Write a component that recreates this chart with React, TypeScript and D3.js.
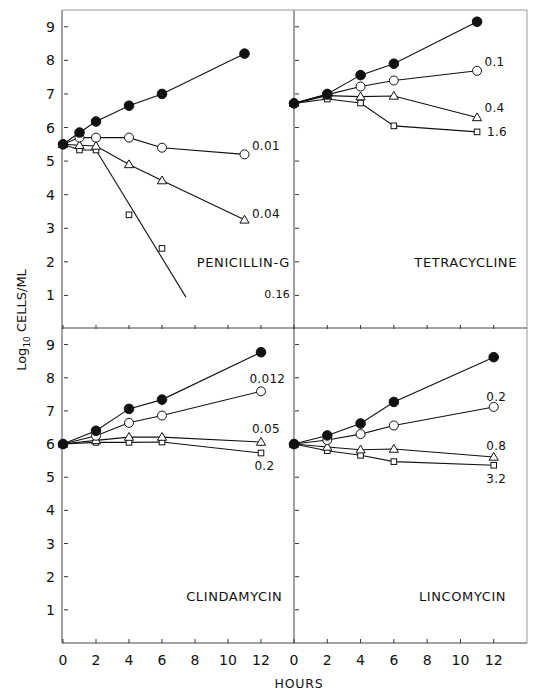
import React from "react";
import * as d3 from "d3";

// ---- Data ----
const penHours = [0, 1, 2, 4, 6, 11];
const penControl = [5.5, 5.85, 6.18, 6.65, 7.0, 8.2];
const pen001 = [5.5, 5.7, 5.7, 5.7, 5.4, 5.2];
const pen004 = [5.5, 5.47, 5.45, 4.9, 4.42, 3.25];
const pen016 = [5.5, 5.33, 5.33, 3.4, 2.4];
const pen016FitHours = [2, 7.45];
const pen016FitValues = [5.33, 0.95];

const tetHours = [0, 2, 4, 6, 11];
const tetControl = [6.72, 7.0, 7.56, 7.9, 9.15];
const tet01 = [6.72, 6.98, 7.22, 7.4, 7.69];
const tet04 = [6.72, 6.95, 6.92, 6.94, 6.3];
const tet16 = [6.72, 6.85, 6.73, 6.05, 5.87];

const cliHours = [0, 2, 4, 6, 12];
const cliControl = [6.0, 6.4, 7.06, 7.34, 8.77];
const cli0012 = [6.0, 6.25, 6.64, 6.86, 7.59];
const cli005 = [6.0, 6.11, 6.21, 6.21, 6.06];
const cli02 = [6.0, 6.05, 6.05, 6.06, 5.73];

const linHours = [0, 2, 4, 6, 12];
const linControl = [6.0, 6.26, 6.62, 7.27, 8.62];
const lin02 = [6.0, 6.12, 6.3, 6.56, 7.12];
const lin08 = [6.0, 5.91, 5.83, 5.85, 5.61];
const lin32 = [6.0, 5.8, 5.66, 5.47, 5.36];

const yTicks = [1, 2, 3, 4, 5, 6, 7, 8, 9];
const xTicks = [0, 2, 4, 6, 8, 10, 12];
const xTickLabels = ["0", "2", "4", "6", "8", "10", "12"];

type Marker = "filled" | "circle" | "triangle" | "square";
type Series = { hours: number[]; values: number[]; marker: Marker; connect?: number };
type Label = { text: string; h: number; v: number; anchor?: "start" | "end" | "middle"; size?: number };

const FONT = "'DejaVu Sans', 'Liberation Sans', sans-serif";

function MarkerShape({ x, y, type }: { x: number; y: number; type: Marker }) {
  if (type === "filled") return <circle cx={x} cy={y} r={4.8} fill="#111" stroke="#111" />;
  if (type === "circle") return <circle cx={x} cy={y} r={4.5} fill="#fff" stroke="#111" strokeWidth={1} />;
  if (type === "triangle") {
    const s = 4.6;
    return (
      <path
        d={`M${x},${y - s}L${x + s},${y + s * 0.7}L${x - s},${y + s * 0.7}Z`}
        fill="#fff"
        stroke="#111"
        strokeWidth={1}
      />
    );
  }
  return <rect x={x - 2.8} y={y - 2.8} width={5.6} height={5.6} fill="#fff" stroke="#111" strokeWidth={1} />;
}

function Panel({
  x0,
  x1,
  y0,
  y1,
  series,
  fit,
  labels,
  showYLabels,
}: {
  x0: number;
  x1: number;
  y0: number;
  y1: number;
  series: Series[];
  fit?: { hours: number[]; values: number[] };
  labels: Label[];
  showYLabels: boolean;
}) {
  const x = d3.scaleLinear().domain([0, 14]).range([x0, x1]);
  const y = d3.scaleLinear().domain([0, 9.5]).range([y1, y0]);
  const line = d3
    .line<[number, number]>()
    .x((d) => x(d[0]))
    .y((d) => y(d[1]));
  const order: Marker[] = ["square", "triangle", "circle", "filled"];
  return (
    <g>
      {yTicks.map((t) => (
        <g key={"yt" + t}>
          <line x1={x0 + 1} x2={x0 + 5} y1={y(t)} y2={y(t)} stroke="#333" strokeWidth={1} />
          {showYLabels && (
            <text x={x0 - 8} y={y(t)} dy="0.36em" textAnchor="end" fontSize={14} fontFamily={FONT} fill="#111">
              {t}
            </text>
          )}
        </g>
      ))}
      {xTicks.map((t) => (
        <line key={"xt" + t} x1={x(t)} x2={x(t)} y1={y1} y2={y1 - 4} stroke="#333" strokeWidth={1} />
      ))}
      {series.map((s, i) => {
        const n = s.connect ?? s.hours.length;
        const pts: [number, number][] = s.hours.slice(0, n).map((h, j) => [h, s.values[j]]);
        return <path key={"l" + i} d={line(pts) || ""} fill="none" stroke="#111" strokeWidth={1.1} />;
      })}
      {fit && (
        <path
          d={line(fit.hours.map((h, j) => [h, fit.values[j]] as [number, number])) || ""}
          fill="none"
          stroke="#111"
          strokeWidth={1.1}
        />
      )}
      {order.map((m) =>
        series
          .filter((s) => s.marker === m)
          .map((s, i) =>
            s.values.map((v, j) => <MarkerShape key={m + i + "-" + j} x={x(s.hours[j])} y={y(v)} type={m} />)
          )
      )}
      {labels.map((l, i) => (
        <text
          key={"lab" + i}
          x={x(l.h)}
          y={y(l.v)}
          dy="0.36em"
          textAnchor={l.anchor ?? "start"}
          fontSize={l.size ?? 12}
          fontFamily={FONT}
          fill="#111"
          letterSpacing={l.size && l.size > 12 ? 0.6 : 0.3}
        >
          {l.text}
        </text>
      ))}
    </g>
  );
}

export default function App() {
  const L0 = 63,
    M = 294,
    R1 = 527;
  const T0 = 10,
    MID = 328,
    B = 643;
  const xL = d3.scaleLinear().domain([0, 14]).range([L0, M]);
  const xR = d3.scaleLinear().domain([0, 14]).range([M, R1]);
  return (
    <svg
      width={534}
      height={693}
      viewBox="0 0 534 693"
      style={{ position: "absolute", left: 0, top: 0, background: "#fff" }}
    >
      <rect width={534} height={693} fill="#fff" />
      {/* frames */}
      <g stroke="#444" strokeWidth={1} fill="none">
        <line x1={L0 - 1} x2={L0 - 1} y1={T0} y2={B} />
        <line x1={M} x2={M} y1={T0} y2={B} />
        <line x1={R1} x2={R1} y1={T0} y2={B} stroke="#999" />
        <line x1={L0 - 1} x2={R1} y1={T0} y2={T0} stroke="#999" />
        <line x1={L0 - 1} x2={R1} y1={MID} y2={MID} />
        <line x1={L0 - 1} x2={R1} y1={B} y2={B} />
      </g>
      <Panel
        x0={L0}
        x1={M}
        y0={T0}
        y1={MID + 1}
        showYLabels
        series={[
          { hours: penHours, values: penControl, marker: "filled" },
          { hours: penHours, values: pen001, marker: "circle" },
          { hours: penHours, values: pen004, marker: "triangle" },
          { hours: penHours, values: pen016, marker: "square", connect: 3 },
        ]}
        fit={{ hours: pen016FitHours, values: pen016FitValues }}
        labels={[
          { text: "0.01", h: 11.45, v: 5.45 },
          { text: "0.04", h: 11.45, v: 3.42 },
          { text: "PENICILLIN-G", h: 13.75, v: 2.0, anchor: "end", size: 13 },
          { text: "0.16", h: 12.2, v: 1.05, size: 11 },
        ]}
      />
      <Panel
        x0={M}
        x1={R1}
        y0={T0}
        y1={MID + 1}
        showYLabels={false}
        series={[
          { hours: tetHours, values: tetControl, marker: "filled" },
          { hours: tetHours, values: tet01, marker: "circle" },
          { hours: tetHours, values: tet04, marker: "triangle" },
          { hours: tetHours, values: tet16, marker: "square" },
        ]}
        labels={[
          { text: "0.1", h: 11.45, v: 7.95 },
          { text: "0.4", h: 11.45, v: 6.6 },
          { text: "1.6", h: 11.6, v: 5.88 },
          { text: "TETRACYCLINE", h: 13.4, v: 2.0, anchor: "end", size: 13 },
        ]}
      />
      <Panel
        x0={L0}
        x1={M}
        y0={MID}
        y1={B}
        showYLabels
        series={[
          { hours: cliHours, values: cliControl, marker: "filled" },
          { hours: cliHours, values: cli0012, marker: "circle" },
          { hours: cliHours, values: cli005, marker: "triangle" },
          { hours: cliHours, values: cli02, marker: "square" },
        ]}
        labels={[
          { text: "0.012", h: 11.3, v: 7.96 },
          { text: "0.05", h: 11.45, v: 6.45 },
          { text: "0.2", h: 11.6, v: 5.34 },
          { text: "CLINDAMYCIN", h: 13.3, v: 1.42, anchor: "end", size: 13 },
        ]}
      />
      <Panel
        x0={M}
        x1={R1}
        y0={MID}
        y1={B}
        showYLabels={false}
        series={[
          { hours: linHours, values: linControl, marker: "filled" },
          { hours: linHours, values: lin02, marker: "circle" },
          { hours: linHours, values: lin08, marker: "triangle" },
          { hours: linHours, values: lin32, marker: "square" },
        ]}
        labels={[
          { text: "0.2", h: 11.55, v: 7.42 },
          { text: "0.8", h: 11.55, v: 5.94 },
          { text: "3.2", h: 11.55, v: 4.95 },
          { text: "LINCOMYCIN", h: 12.75, v: 1.42, anchor: "end", size: 13 },
        ]}
      />
      {/* x tick labels */}
      {[xL, xR].map((xs, k) =>
        xTicks.map((t, i) => (
          <text
            key={"xl" + k + "-" + t}
            x={xs(t)}
            y={660}
            dy="0.36em"
            textAnchor="middle"
            fontSize={14}
            fontFamily={FONT}
            fill="#111"
          >
            {xTickLabels[i]}
          </text>
        ))
      )}
      <text x={299} y={683} dy="0.36em" textAnchor="middle" fontSize={12.5} fontFamily={FONT} fill="#111" letterSpacing={0.8}>
        HOURS
      </text>
      <text
        transform="translate(21,320) rotate(-90)"
        textAnchor="middle"
        dy="0.36em"
        fontSize={13}
        fontFamily={FONT}
        fill="#111"
      >
        Log
        <tspan fontSize={9} dy="4">
          10
        </tspan>
        <tspan dy="-4"> CELLS/ML</tspan>
      </text>
    </svg>
  );
}
